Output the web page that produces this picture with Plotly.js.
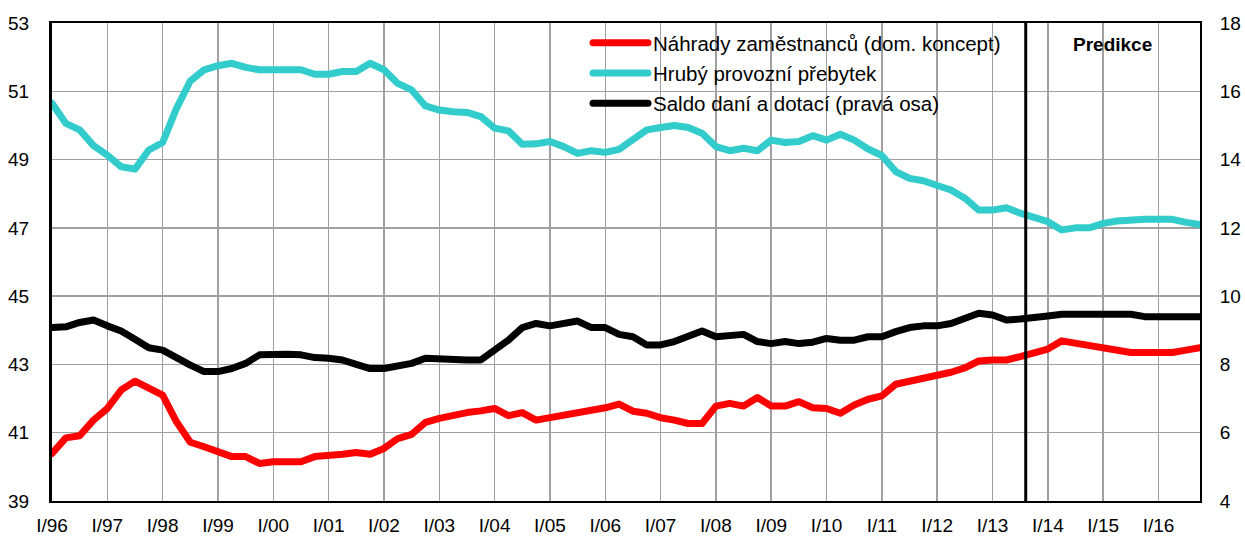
<!DOCTYPE html>
<html>
<head>
<meta charset="utf-8">
<script src="https://cdn.plot.ly/plotly-3.0.1.min.js"></script>
<style>
  html, body { margin: 0; padding: 0; background: #fff; }
  #chart { width: 1245px; height: 538px; }
  path.js-line { stroke-linecap: round !important; stroke-linejoin: round !important; }
</style>
</head>
<body>
<div id="chart"></div>
<script>
// ---- DATA ----
const years = ['96','97','98','99','00','01','02','03','04','05','06','07','08','09','10','11','12','13','14','15','16'];
const quarterNames = ['I','II','III','IV'];
const tickLabels = ['I/96','I/97','I/98','I/99','I/00','I/01','I/02','I/03','I/04','I/05','I/06','I/07','I/08','I/09','I/10','I/11','I/12','I/13','I/14','I/15','I/16'];

const nahrady = [
  40.39, 40.85, 40.91, 41.37, 41.71, 42.25, 42.51, 42.30,
  42.10, 41.32, 40.72, 40.59, 40.47, 40.30, 40.30, 40.10,
  40.15, 40.15, 40.15, 40.30, 40.32, 40.37, 40.42, 40.37,
  40.54, 40.83, 40.95, 41.30, 41.42, 41.52, 41.59, 41.64,
  41.71, 41.50, 41.59, 41.37, 41.44, 41.50, 41.57, 41.66,
  41.73, 41.84, 41.63, 41.57, 41.44, 41.37, 41.27, 41.27,
  41.78, 41.86, 41.78, 42.03, 41.78, 41.78, 41.91, 41.73,
  41.71, 41.57, 41.81, 41.98, 42.08, 42.42, 42.51, 42.57,
  42.64, 42.77, 42.90, 43.10, 43.13, 43.13, 43.23, 43.33,
  43.45, 43.69, 43.62, 43.55, 43.49, 43.42, 43.35, 43.35,
  43.35, 43.35, 43.42, 43.49
];

const hruby = [
  50.65, 50.06, 49.87, 49.41, 49.13, 48.79, 48.72, 49.28,
  49.50, 50.50, 51.30, 51.63, 51.75, 51.82, 51.70, 51.63,
  51.63, 51.63, 51.63, 51.50, 51.50, 51.58, 51.58, 51.82,
  51.63, 51.23, 51.04, 50.57, 50.45, 50.40, 50.38, 50.26,
  49.92, 49.84, 49.45, 49.46, 49.53, 49.38, 49.18, 49.26,
  49.21, 49.30, 49.57, 49.87, 49.94, 50.00, 49.94, 49.77,
  49.38, 49.26, 49.33, 49.26, 49.57, 49.50, 49.53, 49.70,
  49.57, 49.74, 49.57, 49.31, 49.12, 48.65, 48.45, 48.38,
  48.24, 48.11, 47.87, 47.52, 47.52, 47.59, 47.43, 47.30,
  47.18, 46.94, 47.00, 47.00, 47.13, 47.20, 47.25, 47.25,
  47.25, 47.25, 47.16, 47.10
];

const saldo = [
  9.08, 9.10, 9.23, 9.30, 9.13, 8.98, 8.74, 8.49,
  8.42, 8.18, 7.98, 7.79, 7.79, 7.88, 8.03, 8.28,
  8.30, 8.30, 8.28, 8.20, 8.18, 8.13, 8.00, 7.88,
  7.88, 7.96, 8.03, 8.18, 8.15, 8.13, 8.13, 8.13,
  8.42, 8.71, 9.08, 9.20, 9.13, 9.20, 9.27, 9.08,
  9.08, 8.88, 8.81, 8.57, 8.57, 8.67, 8.81, 8.98,
  8.81, 8.86, 8.88, 8.67, 8.61, 8.67, 8.61, 8.65,
  8.76, 8.71, 8.71, 8.81, 8.81, 8.96, 9.08, 9.13,
  9.13, 9.20, 9.33, 9.50, 9.45, 9.30, 9.33, 9.40,
  9.42, 9.47, 9.47, 9.47, 9.47, 9.47, 9.47, 9.40,
  9.40, 9.40, 9.40, 9.40
];

const seriesNames = ['Náhrady zaměstnanců (dom. koncept)', 'Hrubý provozní přebytek', 'Saldo daní a dotací (pravá osa)'];
const predictionStart = 70.4; // between III/13 and IV/13 (category index)
const predictionLabel = 'Predikce';

// ---- categories ----
const quarters = [];
years.forEach(y => quarterNames.forEach(q => quarters.push(q + '/' + y)));
const cats = quarters.slice(0, nahrady.length);

const FONT = 'Liberation Sans, Arial, sans-serif';

const traces = [
  { x: cats, y: nahrady, name: seriesNames[0], type: 'scatter', mode: 'lines',
    line: { color: '#FF0000', width: 7 }, legendgroup: 'a', yaxis: 'y' },
  { x: cats, y: hruby, name: seriesNames[1], type: 'scatter', mode: 'lines',
    line: { color: '#33CCCC', width: 7 }, legendgroup: 'b', yaxis: 'y' },
  { x: cats, y: saldo, name: seriesNames[2], type: 'scatter', mode: 'lines',
    line: { color: '#000000', width: 7 }, legendgroup: 'c', yaxis: 'y2' }
];

const layout = {
  width: 1245, height: 538,
  margin: { l: 52, r: 45, t: 23, b: 37, pad: 0 },
  paper_bgcolor: '#ffffff', plot_bgcolor: '#ffffff',
  font: { family: FONT, size: 19, color: '#000' },
  showlegend: true,
  legend: {
    x: 0.4669, xanchor: 'left', y: 1, yanchor: 'top',
    bgcolor: 'rgba(0,0,0,0)', borderwidth: 0,
    font: { family: FONT, size: 20.5, color: '#000' },
    traceorder: 'grouped', tracegroupgap: 0.5, itemwidth: 55
  },
  xaxis: {
    type: 'category', range: [0, cats.length - 1],
    tickmode: 'array', tickvals: tickLabels, ticktext: tickLabels,
    showgrid: true, gridcolor: '#a0a0a0', gridwidth: 1.5,
    showline: true, linecolor: '#000', linewidth: 2, mirror: true,
    ticks: '', ticklabelstandoff: 6, zeroline: false,
    tickfont: { family: FONT, size: 19 }
  },
  yaxis: {
    range: [39, 53], tick0: 39, dtick: 2, tickmode: 'linear',
    showgrid: true, gridcolor: '#a0a0a0', gridwidth: 1.5,
    showline: true, linecolor: '#000', linewidth: 3, mirror: false,
    ticks: '', ticklabelstandoff: 16, zeroline: false,
    tickfont: { family: FONT, size: 19 }
  },
  yaxis2: {
    overlaying: 'y', side: 'right',
    range: [4, 18], tick0: 4, dtick: 2, tickmode: 'linear',
    showgrid: false, showline: true, linecolor: '#000', linewidth: 2,
    ticks: '', ticklabelstandoff: 14, zeroline: false,
    tickfont: { family: FONT, size: 19 }
  },
  shapes: [
    { type: 'rect', xref: 'paper', yref: 'paper', x0: 0.4564, x1: 0.8389, y0: 0.8013, y1: 1,
      fillcolor: '#ffffff', line: { width: 0 }, layer: 'between' },
    { type: 'line', xref: 'x', yref: 'paper', x0: predictionStart, x1: predictionStart, y0: 0, y1: 1,
      line: { color: '#000', width: 3 } }
  ],
  annotations: [
    { text: '<b>' + predictionLabel + '</b>', xref: 'paper', yref: 'paper',
      x: 0.924, y: 0.954, xanchor: 'center', yanchor: 'middle', showarrow: false,
      font: { family: FONT, size: 19, color: '#000' } }
  ]
};

Plotly.newPlot('chart', traces, layout, { displayModeBar: false, staticPlot: true });
</script>
</body>
</html>
